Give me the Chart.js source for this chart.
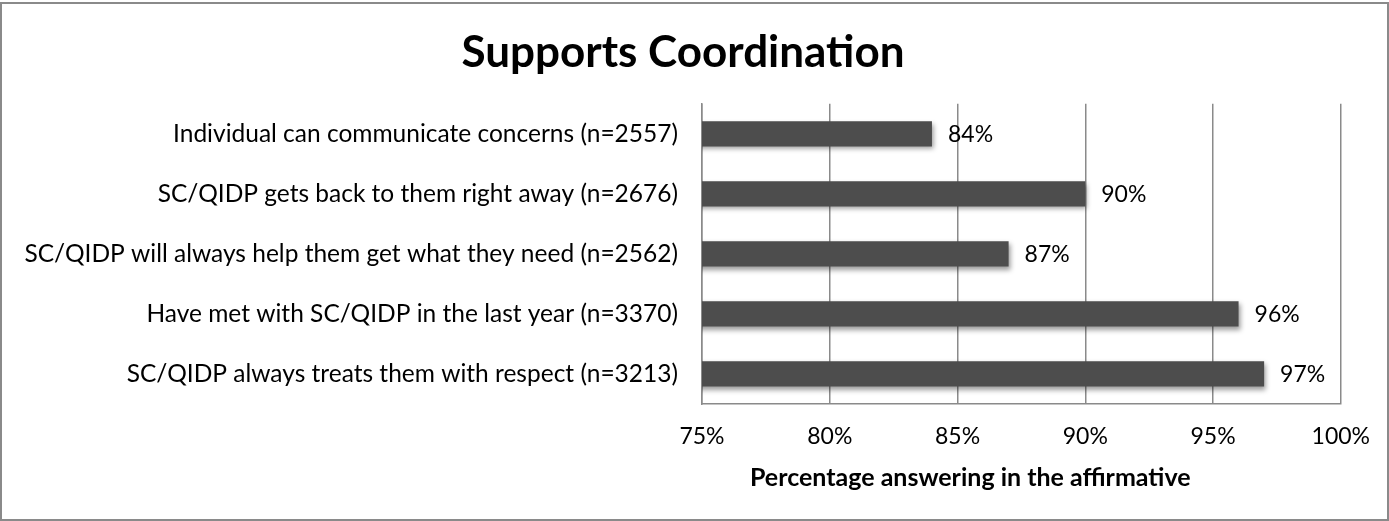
<!DOCTYPE html>
<html>
<head>
<meta charset="utf-8">
<script src="https://cdn.jsdelivr.net/npm/chart.js@4.4.1/dist/chart.umd.min.js"></script>
<style>
  html, body { margin: 0; padding: 0; background: #fff; }
  #wrap { position: relative; width: 1389px; height: 521px; }
</style>
</head>
<body>
<div id="wrap"><canvas id="barChart" width="1389" height="521"></canvas></div>
<script>
var categories = [
  "Individual can communicate concerns (n=2557)",
  "SC/QIDP gets back to them right away (n=2676)",
  "SC/QIDP will always help them get what they need (n=2562)",
  "Have met with SC/QIDP in the last year (n=3370)",
  "SC/QIDP always treats them with respect (n=3213)"
];
var values = [84, 90, 87, 96, 97];
var xTicks = [75, 80, 85, 90, 95, 100];
var chartTitle = "Supports Coordination";
var axisTitle = "Percentage answering in the affirmative";

var gridGray = "#8a8a8a";
var font = "Lato, 'Open Sans', sans-serif";

// outer frame round the whole chart
var frame = {
  id: "frame",
  beforeDraw: function(chart) {
    var ctx = chart.ctx;
    ctx.save();
    ctx.fillStyle = "#fff";
    ctx.fillRect(0, 0, chart.width, chart.height);
    ctx.strokeStyle = gridGray;
    ctx.lineWidth = 2;
    ctx.strokeRect(1, 3, chart.width - 2, chart.height - 4);
    ctx.restore();
  }
};

// soft shadow under the bars
var barShadow = {
  id: "barShadow",
  beforeDatasetsDraw: function(chart) {
    var ctx = chart.ctx;
    ctx.save();
    ctx.shadowColor = "rgba(0,0,0,0.4)";
    ctx.shadowBlur = 5;
    ctx.shadowOffsetX = 2;
    ctx.shadowOffsetY = 3;
  },
  afterDatasetsDraw: function(chart) {
    chart.ctx.restore();
  }
};

// value labels right of each bar, plus the axis caption
var valueLabels = {
  id: "valueLabels",
  afterDraw: function(chart) {
    var ctx = chart.ctx;
    var meta = chart.getDatasetMeta(0);
    ctx.save();
    ctx.fillStyle = "#000";
    ctx.font = "23px " + font;
    ctx.textAlign = "left";
    ctx.textBaseline = "middle";
    meta.data.forEach(function(bar, i) {
      ctx.fillText(values[i] + "%", bar.x + 16, bar.y + 1);
    });
    var area = chart.chartArea;
    ctx.font = "bold 25px " + font;
    ctx.textAlign = "center";
    ctx.fillText(axisTitle, area.left + (area.right - area.left) * 0.42, 478);
    ctx.restore();
  }
};

var ctx = document.getElementById("barChart");
new Chart(ctx, {
  type: "bar",
  data: {
    labels: categories,
    datasets: [{
      data: values,
      backgroundColor: "#4d4d4d",
      borderWidth: 0,
      barPercentage: 0.42,
      categoryPercentage: 1
    }]
  },
  options: {
    indexAxis: "y",
    responsive: false,
    animation: false,
    layout: { padding: { left: 24, right: 47, top: 0, bottom: 0 } },
    plugins: {
      legend: { display: false },
      tooltip: { enabled: false },
      title: {
        display: true,
        text: chartTitle,
        color: "#000",
        font: { family: font, size: 44, weight: "bold" },
        padding: { top: 26, bottom: 25 }
      }
    },
    scales: {
      x: {
        min: 75,
        max: 100,
        afterFit: function(scale) { scale.height = 117; },
        afterBuildTicks: function(scale) {
          scale.ticks = xTicks.map(function(v) { return { value: v }; });
        },
        ticks: {
          color: "#000",
          padding: 19,
          font: { family: font, size: 23 },
          callback: function(v) { return v + "%"; }
        },
        grid: { color: gridGray, lineWidth: 1.5, drawTicks: false },
        border: { color: gridGray, width: 1.5 }
      },
      y: {
        afterFit: function(scale) { scale.width = 678; },
        ticks: {
          color: "#000",
          padding: 24,
          font: { family: font, size: 24.5 }
        },
        grid: { display: false, drawTicks: false },
        border: { display: true, color: gridGray, width: 1.5 }
      }
    }
  },
  plugins: [frame, barShadow, valueLabels]
});
</script>
</body>
</html>
